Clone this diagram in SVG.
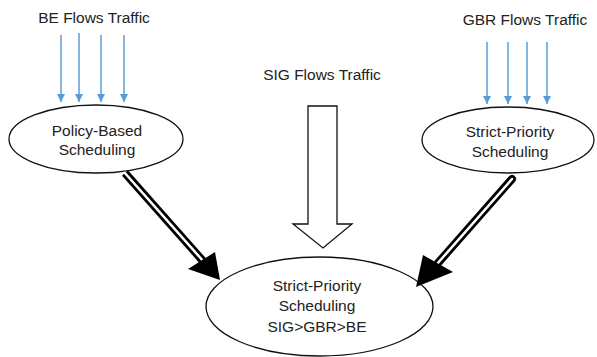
<svg xmlns="http://www.w3.org/2000/svg" width="597" height="357" viewBox="0 0 597 357">
<defs>
<style>
.t{font-family:"Liberation Sans",Arial,sans-serif;font-size:15.5px;fill:#222;text-anchor:middle}
.el{fill:#fff;stroke:#111;stroke-width:1.3}
.blue{stroke:#5b9bd5;stroke-width:1.5;fill:none}
.bh{fill:#5b9bd5}
</style>
<marker id="ba" viewBox="0 0 10 10" refX="10" refY="5" markerWidth="8" markerHeight="8" markerUnits="userSpaceOnUse" orient="auto"><path d="M0,0L10,5L0,10Z" class="bh"/></marker>
</defs>
<rect width="597" height="357" fill="#fff"/>
<text class="t" x="94" y="23">BE Flows Traffic</text>
<text class="t" x="525" y="25">GBR Flows Traffic</text>
<text class="t" x="322" y="80">SIG Flows Traffic</text>
<g id="connectors">
<g id="be-flows">
<line class="blue" x1="61" y1="35" x2="61" y2="102" marker-end="url(#ba)"/>
<line class="blue" x1="79" y1="33" x2="79" y2="102" marker-end="url(#ba)"/>
<line class="blue" x1="101" y1="35" x2="101" y2="102" marker-end="url(#ba)"/>
<line class="blue" x1="124" y1="35" x2="124" y2="102" marker-end="url(#ba)"/>
</g>
<g id="gbr-flows">
<line class="blue" x1="487" y1="42" x2="487" y2="104" marker-end="url(#ba)"/>
<line class="blue" x1="508" y1="42" x2="508" y2="104" marker-end="url(#ba)"/>
<line class="blue" x1="527" y1="42" x2="527" y2="104" marker-end="url(#ba)"/>
<line class="blue" x1="547" y1="42" x2="547" y2="104" marker-end="url(#ba)"/>
</g>
<g id="sig-arrow">
<path d="M308,106H337V224H352L323,248L293,224H308Z" fill="#fff" stroke="#111" stroke-width="1.3" stroke-linejoin="miter"/>
</g>
</g>
<g id="node-policy">
<ellipse class="el" cx="96" cy="139" rx="87" ry="34"/>
<text class="t" x="97" y="136">Policy-Based</text>
<text class="t" x="97" y="155">Scheduling</text>
</g>
<g id="node-strict-gbr">
<ellipse class="el" cx="508" cy="140" rx="86" ry="33"/>
<text class="t" x="510" y="137">Strict-Priority</text>
<text class="t" x="510" y="157">Scheduling</text>
</g>
<g id="node-final">
<ellipse class="el" cx="319.5" cy="306.5" rx="113.5" ry="49.5"/>
<text class="t" x="317" y="291">Strict-Priority</text>
<text class="t" x="317" y="311">Scheduling</text>
<text class="t" x="317" y="332">SIG&gt;GBR&gt;BE</text>
</g>
<g id="double-arrows">
<line x1="125" y1="173" x2="203" y2="261" stroke="#000" stroke-width="8"/>
<line x1="124" y1="172" x2="204" y2="262" stroke="#fff" stroke-width="2.5"/>
<path d="M220,280L188,269L215,252Z" fill="#000"/>
<line x1="512" y1="179" x2="438" y2="263" stroke="#000" stroke-width="8" stroke-linecap="round"/>
<line x1="512" y1="179" x2="437" y2="264" stroke="#fff" stroke-width="2.5" stroke-linecap="round"/>
<path d="M416,287L423,255L453,272Z" fill="#000"/>
</g>
</svg>
